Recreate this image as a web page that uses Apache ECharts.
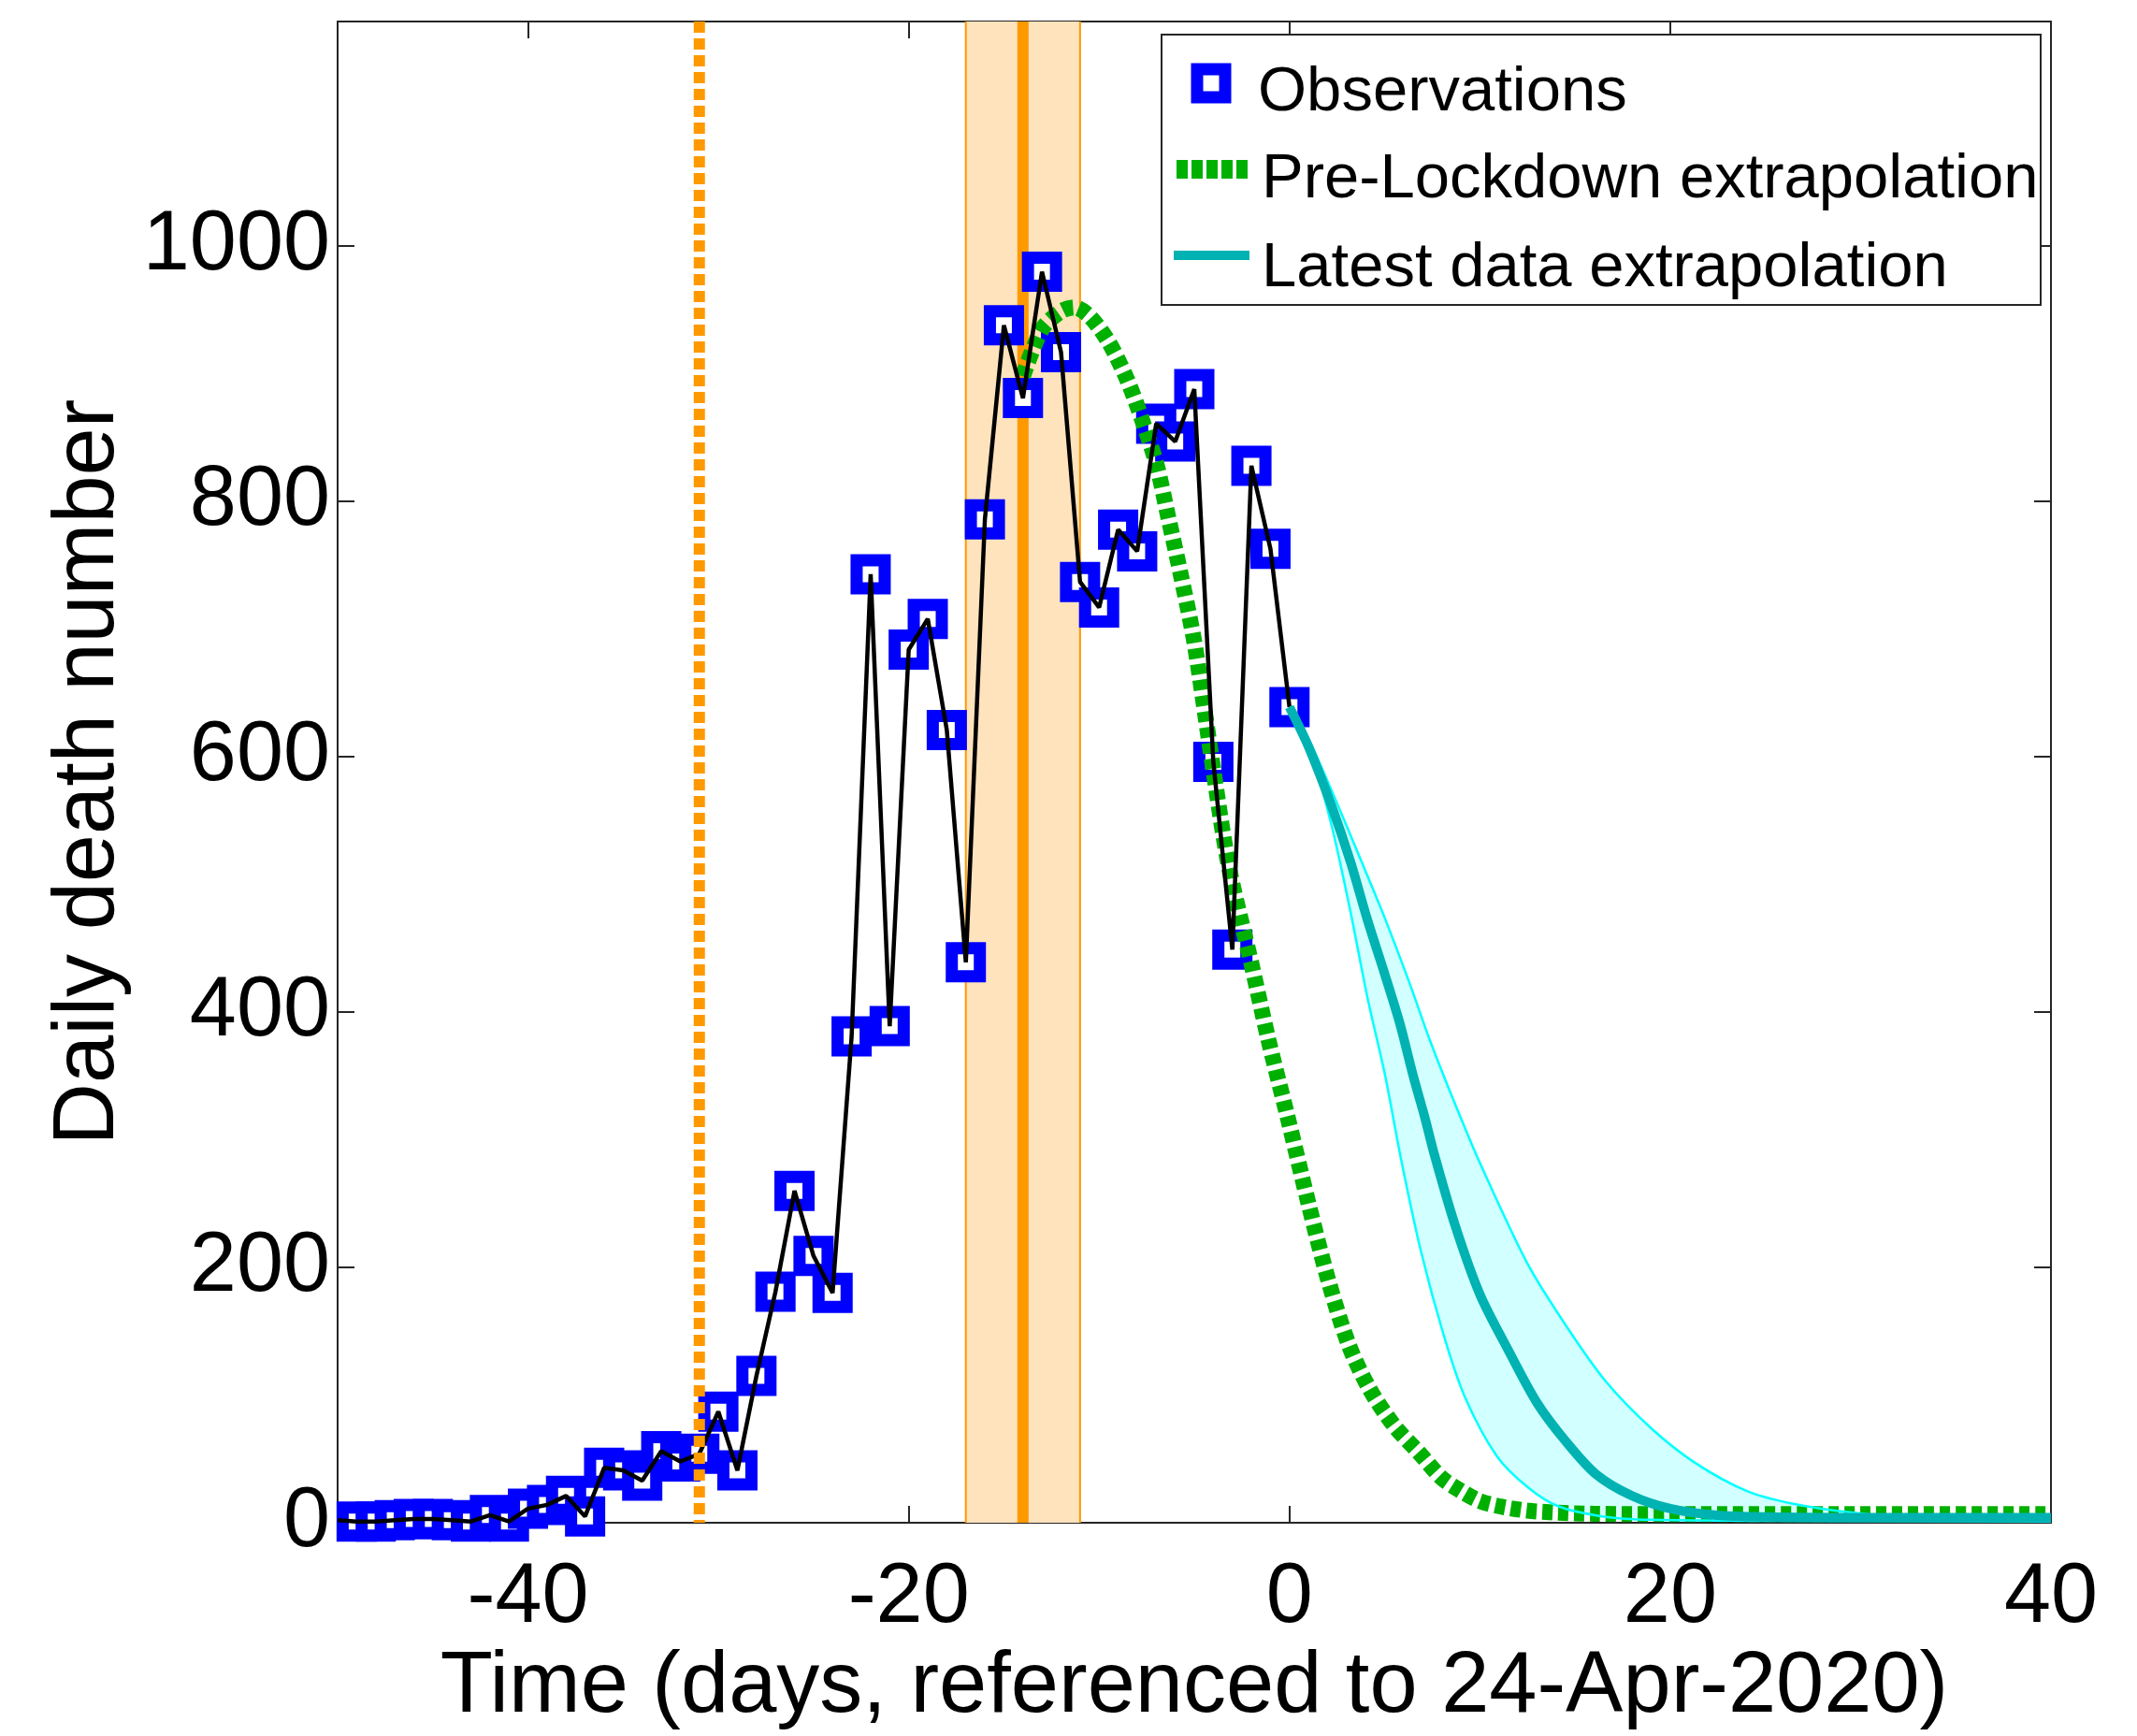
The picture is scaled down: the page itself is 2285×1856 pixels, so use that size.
<!DOCTYPE html>
<html><head><meta charset="UTF-8">
<title>Daily death number</title>
<script src="https://cdn.jsdelivr.net/npm/echarts@6/dist/echarts.min.js"></script>
<style>
  *{margin:0;padding:0;}
  html,body{width:100%;height:100%;background:#fff;}
  #main{width:2285px;height:1856px;}
</style>
</head>
<body>
<div id="main"></div>
<script>
// observations (days referenced to 24-Apr-2020)
var obsDays = [-50,-49,-48,-47,-46,-45,-44,-43,-42,-41,-40,-39,-38,-37,-36,-35,-34,-33,-32,-31,
               -30,-29,-28,-27,-26,-25,-24,-23,-22,-21,-20,-19,-18,-17,-16,-15,-14,-13,-12,-11,
               -10,-9,-8,-7,-6,-5,-4,-3,-2,-1,0];
var obsDeaths = [2,1,1,2,3,3,2,1,6,1,11,14,21,5,43,41,33,56,48,54,
                 87,41,115,181,260,209,180,381,743,389,684,708,621,439,786,938,881,980,917,737,
                 717,778,761,861,847,888,596,449,828,763,639];

// pre-lockdown extrapolation
var greenDays   = [-14,-13,-12,-11.3,-10.5,-9.5,-8.6,-8,-7,-6.4,-5.7,-5,-4.1,-3.2,-2,-1.1,-0.1,1,2,3.1,4.2,5.5,6.8,8,9,10,11,12.5,14,16,20,30,40];
var greenDeaths = [898,935,949,952,945,925,898,875,830,790,742,690,600,515,438,378,318,250,192,140,105,76,55,35,25,17,13,9.5,8,7,6.7,6.7,6.7];

// latest data extrapolation: mean and bounds
var meanDays    = [0,1,2.2,3.2,4.1,5,5.8,6.5,7.1,7.6,8.7,10,11.5,13,14.5,16.1,18,20,22.3,25,30,40];
var meanDeaths  = [639,608,562,518,472,430,391,350,318,289,233,179,135,94,64,38,21,11,6,4.5,4,4];
var upperDays   = [0,1,2.2,3.7,5,6.3,7.4,8.7,10,12.5,14.5,16.6,19,21.3,24,26.4,29.5,33,40];
var upperDeaths = [639,614,574,521,474,423,377,328,282,203,155,111,74,47,25,15,8,4,2];
var lowerDays   = [0,1.2,2.2,3.2,4.1,5,5.9,6.9,8.1,9.2,10.9,12.5,14.1,16.6,19,25,40];
var lowerDeaths = [639,599,547,479,411,352,282,213,147,99,52,28,13,4.6,2.3,1.5,1];

// vertical markers
var lockdownDay = -31;
var peakWindow = [-17, -11];
var peakDay = -14;

var xMin = -50, xMax = 40, yMin = 0, yMax = 1176;
var xTicks = [-40, -20, 0, 20, 40];
var yTicks = [0, 200, 400, 600, 800, 1000];

var FONT = "'Liberation Sans', Arial, Helvetica, sans-serif";
var AX = '#262626';

function pairs(xs, ys) {
  var out = [];
  for (var i = 0; i < xs.length; i++) out.push([xs[i], ys[i]]);
  return out;
}
function plain(v) { return String(v); }

var obsLine = pairs(obsDays, obsDeaths);
// the first day sits on the left edge; no marker shows there in the figure
var obsMarkers = obsLine.slice(1);

var chart = echarts.init(document.getElementById('main'));

function axisX(pos, withLabels) {
  return {
    type: 'value', position: pos, min: xMin, max: xMax,
    axisLine: {show: true, onZero: false, lineStyle: {color: AX, width: 2}},
    axisTick: {show: true, inside: true, length: 18, lineStyle: {color: AX, width: 2}, customValues: xTicks},
    axisLabel: {show: withLabels, customValues: xTicks, formatter: plain, margin: 36, fontSize: 90, color: '#000', fontFamily: FONT},
    splitLine: {show: false}
  };
}
function axisY(pos, withLabels) {
  return {
    type: 'value', position: pos, min: yMin, max: yMax,
    axisLine: {show: true, onZero: false, lineStyle: {color: AX, width: 2}},
    axisTick: {show: true, inside: true, length: 18, lineStyle: {color: AX, width: 2}, customValues: yTicks},
    axisLabel: {show: withLabels, customValues: yTicks, formatter: plain, margin: 8, fontSize: 90, color: '#000', fontFamily: FONT},
    splitLine: {show: false}
  };
}

var xBottom = axisX('bottom', true);
xBottom.name = 'Time (days, referenced to 24-Apr-2020)';
xBottom.nameLocation = 'middle';
xBottom.nameGap = 172;
xBottom.nameTextStyle = {fontSize: 92, color: '#000', fontFamily: FONT, verticalAlign: 'middle'};

var yLeft = axisY('left', true);
yLeft.name = 'Daily death number';
yLeft.nameLocation = 'middle';
yLeft.nameGap = 262;
yLeft.nameTextStyle = {fontSize: 92, color: '#000', fontFamily: FONT, verticalAlign: 'middle'};

var xTop = axisX('top', false);
var yRight = axisY('right', false);

chart.setOption({
  animation: false,
  backgroundColor: '#fff',
  grid: {left: 361, right: 92, top: 23, bottom: 228, containLabel: false, outerBoundsMode: 'none'},
  xAxis: [xBottom, xTop],
  yAxis: [yLeft, yRight],
  series: [
    { // confidence band of latest data extrapolation
      type: 'custom', z: 1, silent: true, clip: true,
      data: [[0, 0]],
      renderItem: function (params, api) {
        var pts = [];
        for (var i = 0; i < upperDays.length; i++) pts.push(api.coord([upperDays[i], upperDeaths[i]]));
        for (var j = lowerDays.length - 1; j >= 0; j--) pts.push(api.coord([lowerDays[j], lowerDeaths[j]]));
        return {type: 'polygon', shape: {points: pts}, style: {fill: '#D2FFFF'}};
      }
    },
    { // peak window shading
      type: 'custom', z: 1, silent: true, clip: true,
      data: [[peakWindow[0], peakWindow[1]]],
      renderItem: function (params, api) {
        var a = api.coord([api.value(0), yMax]);
        var b = api.coord([api.value(1), yMin]);
        return {type: 'group', children: [
          {type: 'rect', shape: {x: a[0], y: a[1], width: b[0] - a[0], height: b[1] - a[1]}, style: {fill: '#FFE3BC'}},
          {type: 'line', shape: {x1: a[0], y1: a[1], x2: a[0], y2: b[1]}, style: {stroke: '#FF9900', lineWidth: 2}},
          {type: 'line', shape: {x1: b[0], y1: a[1], x2: b[0], y2: b[1]}, style: {stroke: '#FF9900', lineWidth: 2}}
        ]};
      }
    },
    { // peak day
      type: 'custom', z: 2, silent: true, clip: true,
      data: [[peakDay, 0]],
      renderItem: function (params, api) {
        var a = api.coord([api.value(0), yMax]);
        var b = api.coord([api.value(0), yMin]);
        return {type: 'line', shape: {x1: a[0], y1: a[1], x2: b[0], y2: b[1]}, style: {stroke: '#FF9900', lineWidth: 12}};
      }
    },
    {
      name: 'Observations', type: 'scatter', z: 3, silent: true,
      data: obsMarkers,
      symbol: 'rect', symbolSize: 30,
      itemStyle: {color: '#ffffff', borderColor: '#0000FF', borderWidth: 13, opacity: 1}
    },
    {
      name: 'Pre-Lockdown extrapolation', type: 'line', z: 4, silent: true,
      data: pairs(greenDays, greenDeaths),
      smooth: 0.3, showSymbol: false, symbol: 'none',
      lineStyle: {color: '#00B000', width: 17, type: [11, 6], cap: 'butt'}
    },
    {
      type: 'line', z: 5, silent: true,
      data: obsLine, showSymbol: false, symbol: 'none',
      lineStyle: {color: '#000', width: 4.5}
    },
    {
      type: 'line', z: 6, silent: true,
      data: pairs(upperDays, upperDeaths), smooth: 0.3, symbol: 'none',
      lineStyle: {color: '#00FFFF', width: 2.5}
    },
    {
      type: 'line', z: 6, silent: true,
      data: pairs(lowerDays, lowerDeaths), smooth: 0.3, symbol: 'none',
      lineStyle: {color: '#00FFFF', width: 2.5}
    },
    {
      name: 'Latest data extrapolation', type: 'line', z: 6, silent: true,
      data: pairs(meanDays, meanDeaths), smooth: 0.3, symbol: 'none',
      lineStyle: {color: '#00B2B2', width: 10}
    },
    { // lockdown day
      type: 'custom', z: 7, silent: true, clip: true,
      data: [[lockdownDay, 0]],
      renderItem: function (params, api) {
        var a = api.coord([api.value(0), yMax]);
        var b = api.coord([api.value(0), yMin]);
        return {type: 'line', shape: {x1: a[0], y1: a[1], x2: b[0], y2: b[1]},
                style: {stroke: '#FF9900', lineWidth: 12, lineDash: [12, 6]}};
      }
    }
  ],
  graphic: [
    {type: 'rect', z: 100, shape: {x: 1242, y: 37, width: 940, height: 289},
     style: {fill: '#fff', stroke: AX, lineWidth: 2}},
    {type: 'rect', z: 101, shape: {x: 1280, y: 74, width: 30, height: 30},
     style: {fill: '#fff', stroke: '#0000FF', lineWidth: 13}},
    {type: 'line', z: 101, shape: {x1: 1258, y1: 181, x2: 1336, y2: 181},
     style: {stroke: '#00B000', lineWidth: 20, lineDash: [12, 4]}},
    {type: 'line', z: 101, shape: {x1: 1255, y1: 273, x2: 1336, y2: 273},
     style: {stroke: '#00B2B2', lineWidth: 10}},
    {type: 'text', z: 101, x: 1345, y: 100,
     style: {text: 'Observations', fontSize: 67, fontFamily: FONT, fill: '#000', verticalAlign: 'middle'}},
    {type: 'text', z: 101, x: 1349, y: 193,
     style: {text: 'Pre-Lockdown extrapolation', fontSize: 67, fontFamily: FONT, fill: '#000', verticalAlign: 'middle'}},
    {type: 'text', z: 101, x: 1349, y: 288,
     style: {text: 'Latest data extrapolation', fontSize: 67, fontFamily: FONT, fill: '#000', verticalAlign: 'middle'}}
  ]
});
</script>
</body></html>
